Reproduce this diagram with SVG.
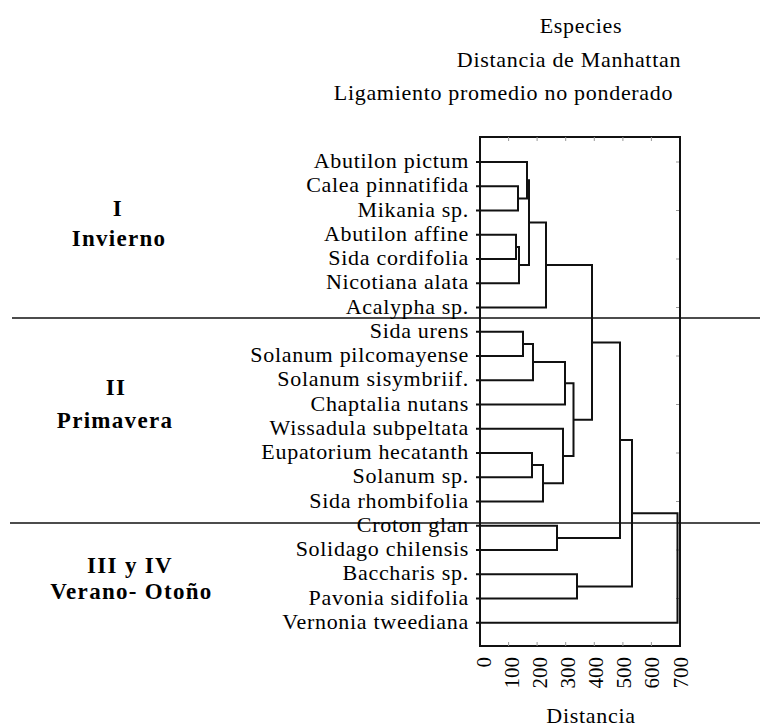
<svg xmlns="http://www.w3.org/2000/svg" width="760" height="727" viewBox="0 0 760 727">
<style>
  .t { font-family: "Liberation Serif", "Times New Roman", serif; font-size: 22px; letter-spacing: 0.7px; fill: #000; }
  .lbl { text-anchor: end; }
  .mid { text-anchor: middle; }
  .grp { font-family: "Liberation Serif", "Times New Roman", serif; font-size: 23px; font-weight: bold; letter-spacing: 1.3px; fill: #000; text-anchor: middle; }
  .ax { font-family: "Liberation Serif", "Times New Roman", serif; font-size: 21px; fill: #000; text-anchor: end; }
  .ln { fill: none; stroke: #111; stroke-width: 2; }
  .sep { stroke: #111; stroke-width: 1.6; }
  .tick { stroke: #999; stroke-width: 1; }
</style>
<rect width="760" height="727" fill="#ffffff"/>

<g id="titles">
  <text class="t mid" x="581" y="33">Especies</text>
  <text class="t mid" x="569" y="66.5">Distancia de Manhattan</text>
  <text class="t mid" x="503.5" y="100">Ligamiento promedio no ponderado</text>
</g>

<g id="separators">
  <line class="sep" x1="12" y1="318" x2="760" y2="318"/>
  <line class="sep" x1="10" y1="523" x2="760" y2="523"/>
</g>

<g id="group-I">
  <text class="grp" x="118" y="215.5">I</text>
  <text class="grp" x="119" y="245.5">Invierno</text>
</g>
<g id="group-II">
  <text class="grp" x="116" y="395">II</text>
  <text class="grp" x="115" y="428">Primavera</text>
</g>
<g id="group-III-IV">
  <text class="grp" x="130" y="572.5">III y IV</text>
  <text class="grp" x="131.5" y="598.5">Verano- Otoño</text>
</g>

<g id="frame">
  <rect x="480" y="137" width="200" height="509" fill="none" stroke="#111" stroke-width="2"/>
  <path class="tick" d="M508.6,646V642M537.1,646V642M565.7,646V642M594.3,646V642M622.9,646V642M651.4,646V642M508.6,137V141M537.1,137V141M565.7,137V141M594.3,137V141M622.9,137V141M651.4,137V141"/>
  <path class="tick" d="M676,162H679M676,210.5H679M676,259H679M676,307.5H679M676,356H679M676,404.5H679M676,453H679M676,501.5H679M676,550H679M676,598.5H679"/>
</g>

<g id="axis">
  <g id="tick-0"><text class="ax" transform="translate(490.5,657) rotate(-90)">0</text></g>
  <g id="tick-100"><text class="ax" transform="translate(518.6,657) rotate(-90)">100</text></g>
  <g id="tick-200"><text class="ax" transform="translate(546.8,657) rotate(-90)">200</text></g>
  <g id="tick-300"><text class="ax" transform="translate(574.9,657) rotate(-90)">300</text></g>
  <g id="tick-400"><text class="ax" transform="translate(603.1,657) rotate(-90)">400</text></g>
  <g id="tick-500"><text class="ax" transform="translate(631.2,657) rotate(-90)">500</text></g>
  <g id="tick-600"><text class="ax" transform="translate(659.4,657) rotate(-90)">600</text></g>
  <g id="tick-700"><text class="ax" transform="translate(687.5,657) rotate(-90)">700</text></g>
  <text class="t mid" x="591" y="723">Distancia</text>
</g>

<g id="leaf-abutilon-pictum"><text class="t lbl" x="469" y="168">Abutilon pictum</text></g>
<g id="leaf-calea-pinnatifida"><text class="t lbl" x="469" y="192.25">Calea pinnatifida</text></g>
<g id="leaf-mikania"><text class="t lbl" x="469" y="216.5">Mikania sp.</text></g>
<g id="leaf-abutilon-affine"><text class="t lbl" x="469" y="240.75">Abutilon affine</text></g>
<g id="leaf-sida-cordifolia"><text class="t lbl" x="469" y="265">Sida cordifolia</text></g>
<g id="leaf-nicotiana-alata"><text class="t lbl" x="469" y="289.25">Nicotiana alata</text></g>
<g id="leaf-acalypha"><text class="t lbl" x="469" y="313.5">Acalypha sp.</text></g>
<g id="leaf-sida-urens"><text class="t lbl" x="469" y="337.75">Sida urens</text></g>
<g id="leaf-solanum-pilcomayense"><text class="t lbl" x="469" y="362">Solanum pilcomayense</text></g>
<g id="leaf-solanum-sisymbriif"><text class="t lbl" x="469" y="386.25">Solanum sisymbriif.</text></g>
<g id="leaf-chaptalia-nutans"><text class="t lbl" x="469" y="410.5">Chaptalia nutans</text></g>
<g id="leaf-wissadula-subpeltata"><text class="t lbl" x="469" y="434.75">Wissadula subpeltata</text></g>
<g id="leaf-eupatorium-hecatanth"><text class="t lbl" x="469" y="459">Eupatorium hecatanth</text></g>
<g id="leaf-solanum-sp"><text class="t lbl" x="469" y="483.25">Solanum sp.</text></g>
<g id="leaf-sida-rhombifolia"><text class="t lbl" x="469" y="507.5">Sida rhombifolia</text></g>
<g id="leaf-croton-glan"><text class="t lbl" x="469" y="531.75">Croton glan</text></g>
<g id="leaf-solidago-chilensis"><text class="t lbl" x="469" y="556">Solidago chilensis</text></g>
<g id="leaf-baccharis"><text class="t lbl" x="469" y="580.25">Baccharis sp.</text></g>
<g id="leaf-pavonia-sidifolia"><text class="t lbl" x="469" y="604.5">Pavonia sidifolia</text></g>
<g id="leaf-vernonia-tweediana"><text class="t lbl" x="469" y="628.75">Vernonia tweediana</text></g>

<g id="connectors">
  <path class="ln" d="M476,186.25H518V210.5H476"/>
  <path class="ln" d="M476,162H527V198.4H518"/>
  <path class="ln" d="M476,234.75H516V259H476"/>
  <path class="ln" d="M516,246.9H519V283.25H476"/>
  <path class="ln" d="M527,180.2H529V265.1H519"/>
  <path class="ln" d="M529,222.6H546V307.5H476"/>
  <path class="ln" d="M476,331.75H523V356H476"/>
  <path class="ln" d="M523,343.9H533V380.25H476"/>
  <path class="ln" d="M533,362.1H565V404.5H476"/>
  <path class="ln" d="M476,453H532V477.25H476"/>
  <path class="ln" d="M532,465.1H543V501.5H476"/>
  <path class="ln" d="M476,428.75H563V483.3H543"/>
  <path class="ln" d="M565,383.3H573.5V456H563"/>
  <path class="ln" d="M546,265.1H592V419.7H573.5"/>
  <path class="ln" d="M476,525.75H557V550H476"/>
  <path class="ln" d="M592,342.4H620V537.9H557"/>
  <path class="ln" d="M476,574.25H577V598.5H476"/>
  <path class="ln" d="M620,440.1H632V586.4H577"/>
  <path class="ln" d="M632,513.2H677.5V622.75H476"/>
</g>
</svg>
